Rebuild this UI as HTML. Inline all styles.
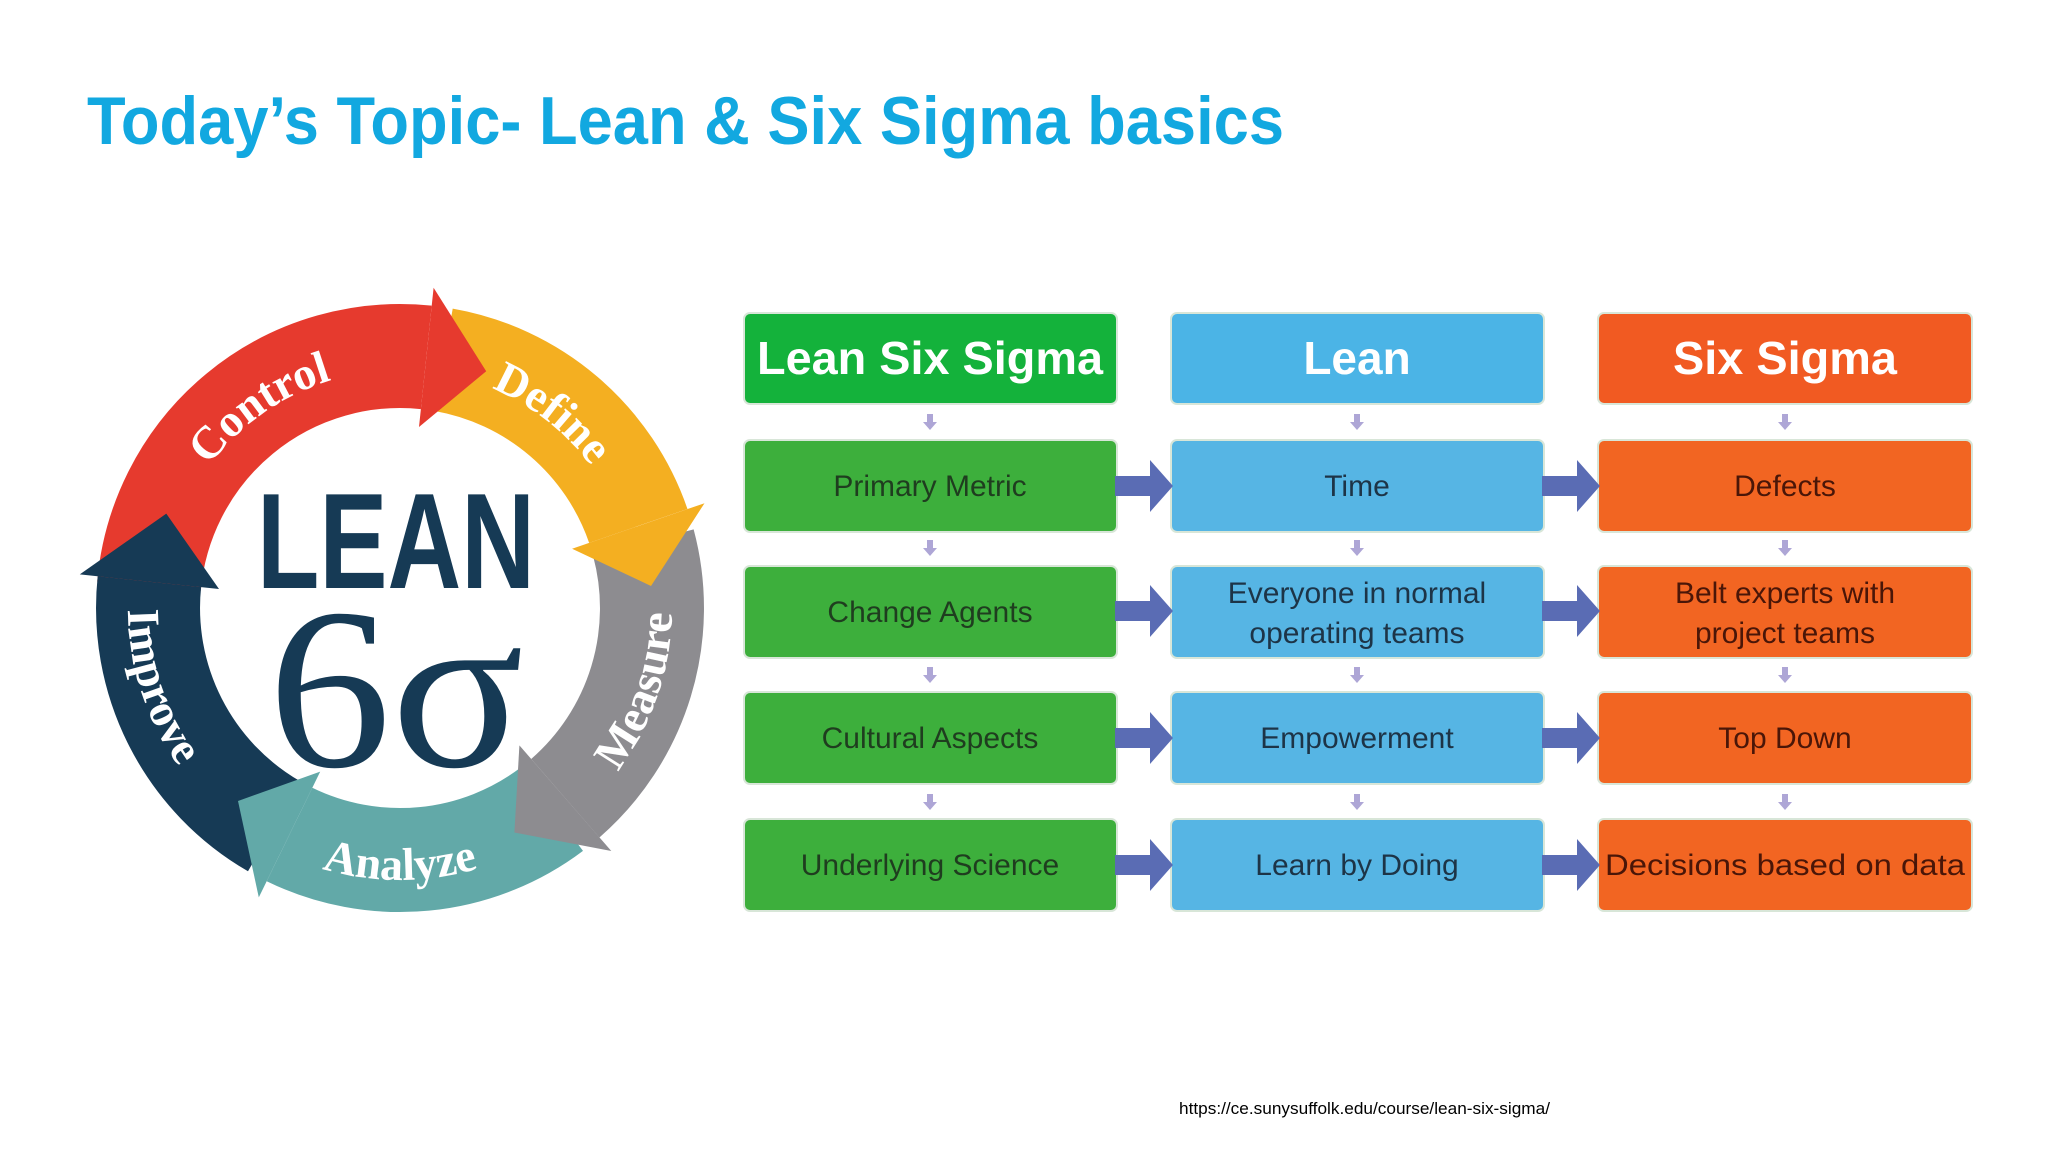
<!DOCTYPE html>
<html><head><meta charset="utf-8"><style>
html,body{margin:0;padding:0;background:#fff;}
svg{display:block;}
</style></head><body>
<svg width="2048" height="1152" viewBox="0 0 2048 1152" xmlns="http://www.w3.org/2000/svg">
<rect width="2048" height="1152" fill="#fff"/>
<text x="87" y="144" font-family="Liberation Sans, sans-serif" font-weight="bold" font-size="68" fill="#12a8e0" textLength="1197" lengthAdjust="spacingAndGlyphs">Today’s Topic- Lean &amp; Six Sigma basics</text>

<!-- cycle -->
<g fill="none" stroke-width="104">
<path d="M149,586 A252,252 0 0 1 426.3,357.4" stroke="#e63a2e"/>
<path d="M443.7,359.8 A252,252 0 0 1 638.3,525.9" stroke="#f4af21"/>
<path d="M643.4,542.8 A252,252 0 0 1 565.3,798.2" stroke="#8d8c90"/>
<path d="M551.7,809.3 A252,252 0 0 1 289.5,834.5" stroke="#62a9a8"/>
<path d="M274,826.2 A252,252 0 0 1 149.4,581.7" stroke="#163a55"/>
</g>
<polygon points="419,427 433.6,287.8 486.2,371.2" fill="#e63a2e"/>
<polygon points="572.1,548.7 704.5,503.2 651,586" fill="#f4af21"/>
<polygon points="519.4,745.4 611.3,851 514.4,832.5" fill="#8d8c90"/>
<polygon points="320.2,771.6 258.8,897.4 238,801" fill="#62a9a8"/>
<polygon points="219,589 79.8,574.4 166.3,513.6" fill="#163a55"/>
<defs>
<path id="pc" d="M165.6,566.7 A238,238 0 0 1 441.3,373.6"/>
<path id="pd" d="M371,371.8 A238,238 0 0 1 636.2,579"/>
<path id="pm" d="M519.2,852.5 A272,272 0 0 0 644.5,488.8"/>
<path id="pa" d="M207.7,800.3 A272,272 0 0 0 592.3,800.3"/>
<path id="pi" d="M157.6,484.5 A272,272 0 0 0 276.5,850.4"/>
</defs>
<g font-family="Liberation Serif, serif" font-weight="bold" font-size="46" fill="#fff" text-anchor="middle">
<text><textPath href="#pc" startOffset="50%">Control</textPath></text>
<text><textPath href="#pd" startOffset="50%">Define</textPath></text>
<text><textPath href="#pm" startOffset="50%">Measure</textPath></text>
<text><textPath href="#pa" startOffset="50%">Analyze</textPath></text>
<text><textPath href="#pi" startOffset="50%">Improve</textPath></text>
</g>
<text x="257" y="588" font-family="Liberation Sans, sans-serif" font-weight="bold" font-size="136" fill="#163a55" textLength="278" lengthAdjust="spacingAndGlyphs">LEAN</text>
<text x="268" y="766" font-family="Liberation Serif, serif" font-size="230" fill="#163a55" textLength="256" lengthAdjust="spacingAndGlyphs">6σ</text>

<!-- table -->
<g stroke="#d8e6d8" stroke-width="2">
<rect x="744" y="313" width="373" height="91" rx="6" fill="#14b23b"/>
<rect x="1171" y="313" width="373" height="91" rx="6" fill="#4bb4e6"/>
<rect x="1598" y="313" width="374" height="91" rx="6" fill="#f15a22"/>
<g fill="#3daf3c">
<rect x="744" y="440" width="373" height="92" rx="6"/>
<rect x="744" y="566" width="373" height="92" rx="6"/>
<rect x="744" y="692" width="373" height="92" rx="6"/>
<rect x="744" y="819" width="373" height="92" rx="6"/>
</g>
<g fill="#56b5e4">
<rect x="1171" y="440" width="373" height="92" rx="6"/>
<rect x="1171" y="566" width="373" height="92" rx="6"/>
<rect x="1171" y="692" width="373" height="92" rx="6"/>
<rect x="1171" y="819" width="373" height="92" rx="6"/>
</g>
<g fill="#f26522">
<rect x="1598" y="440" width="374" height="92" rx="6"/>
<rect x="1598" y="566" width="374" height="92" rx="6"/>
<rect x="1598" y="692" width="374" height="92" rx="6"/>
<rect x="1598" y="819" width="374" height="92" rx="6"/>
</g>
</g>
<g font-family="Liberation Sans, sans-serif" font-weight="bold" font-size="46" fill="#fff" text-anchor="middle">
<text x="930" y="374" textLength="346" lengthAdjust="spacingAndGlyphs">Lean Six Sigma</text>
<text x="1357" y="374">Lean</text>
<text x="1785" y="374" textLength="224" lengthAdjust="spacingAndGlyphs">Six Sigma</text>
</g>
<g font-family="Liberation Sans, sans-serif" font-size="30" text-anchor="middle">
<g fill="#1f3d1f">
<text x="930" y="496">Primary Metric</text>
<text x="930" y="622">Change Agents</text>
<text x="930" y="748">Cultural Aspects</text>
<text x="930" y="875">Underlying Science</text>
</g>
<g fill="#1d3447">
<text x="1357" y="496">Time</text>
<text x="1357" y="603">Everyone in normal</text>
<text x="1357" y="643">operating teams</text>
<text x="1357" y="748">Empowerment</text>
<text x="1357" y="875">Learn by Doing</text>
</g>
<g fill="#4a1608">
<text x="1785" y="496">Defects</text>
<text x="1785" y="603">Belt experts with</text>
<text x="1785" y="643">project teams</text>
<text x="1785" y="748">Top Down</text>
<text x="1785" y="875" textLength="360" lengthAdjust="spacingAndGlyphs">Decisions based on data</text>
</g>
</g>
<!-- side arrows -->
<g fill="#5a6cb4">
<polygon points="1115,476 1150,476 1150,460 1173,486 1150,512 1150,496 1115,496"/>
<polygon points="1115,601 1150,601 1150,585 1173,611 1150,637 1150,621 1115,621"/>
<polygon points="1115,728 1150,728 1150,712 1173,738 1150,764 1150,748 1115,748"/>
<polygon points="1115,855 1150,855 1150,839 1173,865 1150,891 1150,875 1115,875"/>
<polygon points="1542,476 1577,476 1577,460 1600,486 1577,512 1577,496 1542,496"/>
<polygon points="1542,601 1577,601 1577,585 1600,611 1577,637 1577,621 1542,621"/>
<polygon points="1542,728 1577,728 1577,712 1600,738 1577,764 1577,748 1542,748"/>
<polygon points="1542,855 1577,855 1577,839 1600,865 1577,891 1577,875 1542,875"/>
</g>
<!-- down arrows -->
<defs>
<polygon id="da" points="-3,-8 3,-8 3,0 7,0 0,8 -7,0 -3,0" fill="#aea6d6"/>
</defs>
<use href="#da" x="930" y="422"/><use href="#da" x="1357" y="422"/><use href="#da" x="1785" y="422"/>
<use href="#da" x="930" y="548"/><use href="#da" x="1357" y="548"/><use href="#da" x="1785" y="548"/>
<use href="#da" x="930" y="675"/><use href="#da" x="1357" y="675"/><use href="#da" x="1785" y="675"/>
<use href="#da" x="930" y="802"/><use href="#da" x="1357" y="802"/><use href="#da" x="1785" y="802"/>

<text x="1179" y="1114" font-family="Liberation Sans, sans-serif" font-size="17" fill="#000" textLength="371" lengthAdjust="spacingAndGlyphs">https://ce.sunysuffolk.edu/course/lean-six-sigma/</text>
</svg>
</body></html>
